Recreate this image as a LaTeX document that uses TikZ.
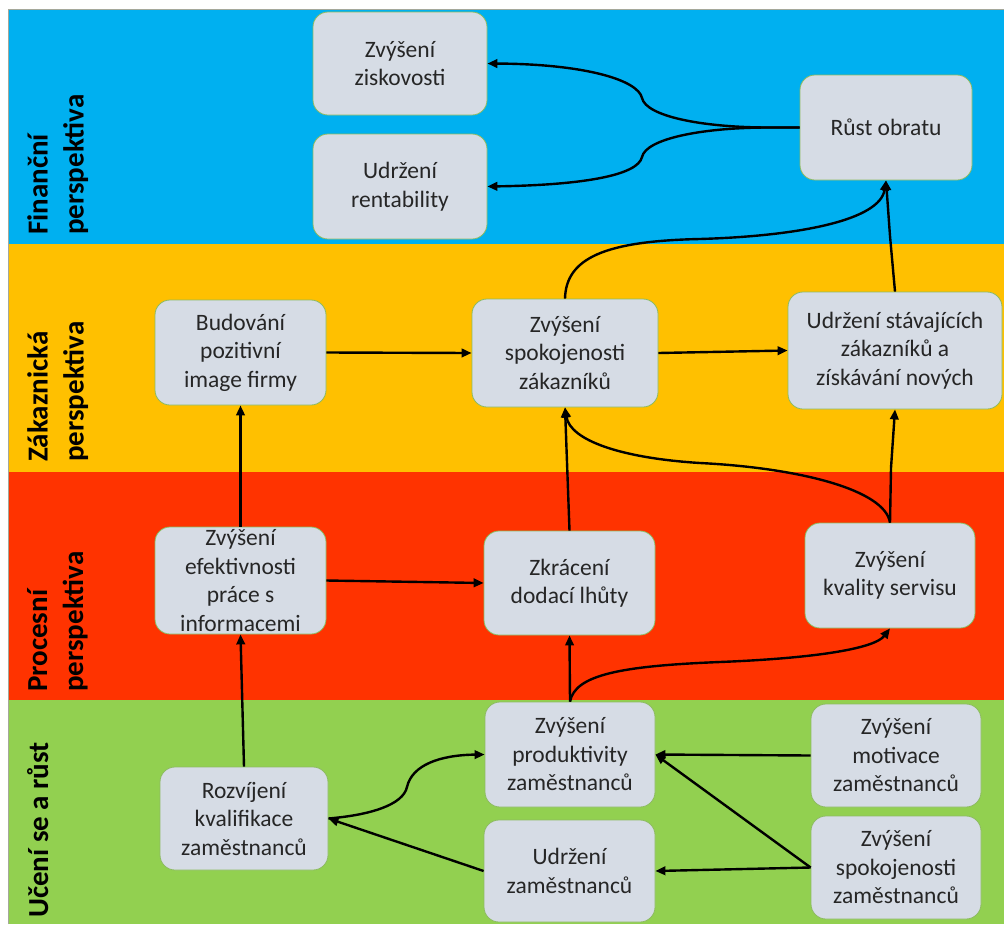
\documentclass[tikz,border=0pt]{standalone}
\usepackage{fontspec}
\setmainfont{Carlito}
\usetikzlibrary{arrows.meta}

\definecolor{finblue}{HTML}{00B0F0}
\definecolor{custyellow}{HTML}{FFC000}
\definecolor{procred}{HTML}{FF3300}
\definecolor{learngreen}{HTML}{92D050}
\definecolor{boxfill}{HTML}{D6DCE5}
\definecolor{boxline}{HTML}{8DBB62}
\definecolor{boxtext}{HTML}{262626}
\definecolor{framegray}{HTML}{A5A89A}

\begin{document}
\begin{tikzpicture}[x=1pt,y=-1pt,
  box/.style={draw=boxline, line width=0.8pt, fill=boxfill, rounded corners=15pt,
    align=center, text=boxtext, font=\fontsize{23.5}{28.5}\selectfont, inner sep=0pt},
  lane/.style={rotate=90, anchor=north west, align=left, inner sep=0pt,
    font=\bfseries\fontsize{29}{36}\selectfont, text=black},
  link/.style={line width=2.4pt, -{Triangle[length=10pt,width=8.5pt]}}
]
\useasboundingbox (0,0) rectangle (1004,924);
\fill[white] (0,0) rectangle (1004,924);

% perspective bands
\fill[finblue]    (8,9)   rectangle (1004,244);
\fill[custyellow] (8,244) rectangle (1004,472);
\fill[procred]    (8,472) rectangle (1004,700);
\fill[learngreen] (8,700) rectangle (1004,924);
\draw[framegray, line width=1pt] (8,924) -- (8,9) -- (1004,9);

% band titles
\node[lane] (fin)  at (27,235) {Finanční\\perspektiva};
\node[lane] (zak)  at (27,462) {Zákaznická\\perspektiva};
\node[lane] (proc) at (27,692) {Procesní\\perspektiva};
\node[lane] (uc)   at (27,918) {Učení se a růst};

% financial
\node[box, minimum width=174pt, minimum height=103pt] (zisk) at (400,63.5) {Zvýšení\\ziskovosti};
\node[box, minimum width=174pt, minimum height=105pt] (rent) at (400,186.5) {Udržení\\rentability};
\node[box, minimum width=172pt, minimum height=105pt] (rust) at (886,127.5) {Růst obratu};

% customer
\node[box, minimum width=171pt, minimum height=105pt] (budov) at (240.5,352.5) {Budování\\pozitivní\\image firmy};
\node[box, minimum width=186pt, minimum height=108pt] (spokz) at (565,353) {Zvýšení\\spokojenosti\\zákazníků};
\node[box, minimum width=214pt, minimum height=117pt] (udrz) at (895,350.5) {Udržení stávajících\\zákazníků a\\získávání nových};

% process
\node[box, minimum width=171pt, minimum height=107pt] (efekt) at (240.5,580.5) {Zvýšení\\efektivnosti\\práce s\\informacemi};
\node[box, minimum width=171pt, minimum height=104pt] (zkrac) at (569.5,583) {Zkrácení\\dodací lhůty};
\node[box, minimum width=170pt, minimum height=105pt] (kval) at (890,575.5) {Zvýšení\\kvality servisu};

% learning and growth
\node[box, minimum width=170pt, minimum height=105pt] (prod) at (570,754.5) {Zvýšení\\produktivity\\zaměstnanců};
\node[box, minimum width=170pt, minimum height=103pt] (motiv) at (896,755.5) {Zvýšení\\motivace\\zaměstnanců};
\node[box, minimum width=168pt, minimum height=103pt] (rozv) at (244,818.5) {Rozvíjení\\kvalifikace\\zaměstnanců};
\node[box, minimum width=171pt, minimum height=102pt] (udrzz) at (569.5,871) {Udržení\\zaměstnanců};
\node[box, minimum width=170pt, minimum height=103pt] (spokzam) at (896,867.5) {Zvýšení\\spokojenosti\\zaměstnanců};

% connectors
\draw[link] (rust.west) -- (765,127.5) .. controls (700,127) and (646,116) .. (642,98)
  .. controls (638,80) and (585,64) .. (zisk.east);
\draw[link] (rust.west) -- (765,127.5) .. controls (700,128) and (646,139) .. (642,157)
  .. controls (638,175) and (585,185) .. (rent.east);
\draw[link] (spokz.north) .. controls (566,258) and (605,241) .. (700,239)
  .. controls (800,236) and (880,220) .. (rust.south);
\draw[link] (udrz.north) -- (890,236) -- (rust.south);

\draw[link] (budov.east) -- (spokz.west);
\draw[link] (spokz.east) -- (udrz.west);

\draw[link] (efekt.north) -- (budov.south);
\draw[link] (efekt.east) -- (zkrac.west);
\draw[link] (zkrac.north) -- (spokz.south);
\draw[link] (kval.north) .. controls (885,490) and (800,468) .. (700,463)
  .. controls (620,458) and (570,440) .. (spokz.south);
\draw[link] (kval.north) -- (891,468) -- (udrz.south);

\draw[link] (prod.north) -- (zkrac.south);
\draw[link] (prod.north) .. controls (575,675) and (620,666) .. (720,662)
  .. controls (820,658) and (875,648) .. (kval.south);

\draw[link] (rozv.north) -- (efekt.south);
\draw[link] (rozv.east) .. controls (370,815) and (403,805) .. (407,787)
  .. controls (412,765) and (440,755) .. (prod.west);
\draw[link] (udrzz.west) -- (rozv.east);
\draw[link] (motiv.west) -- (prod.east);
\draw[link] (spokzam.west) -- (prod.east);
\draw[link] (spokzam.west) -- (udrzz.east);
\end{tikzpicture}
\end{document}
